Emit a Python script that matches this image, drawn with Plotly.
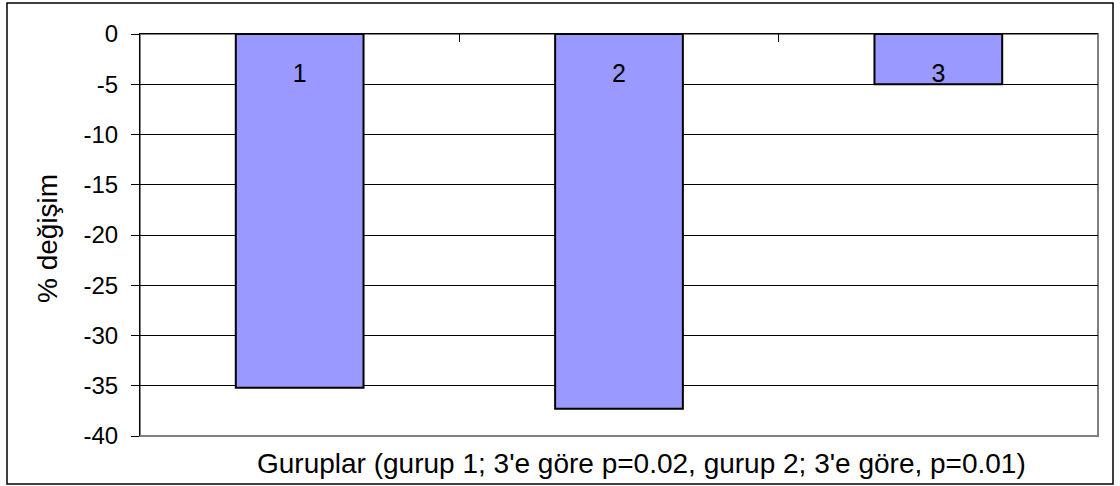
import plotly.graph_objects as go

categories = ["1", "2", "3"]
values = [-35.2, -37.3, -5.0]
label_y = [-4.15, -4.15, -4.15]
y_tick_vals = [0, -5, -10, -15, -20, -25, -30, -35, -40]
y_tick_text = ["0", "-5", "-10", "-15", "-20", "-25", "-30", "-35", "-40"]
y_title = "% değişim"
x_title = "Guruplar (gurup 1; 3'e göre p=0.02, gurup 2; 3'e göre, p=0.01)"

FONT = "Liberation Sans, Arial, sans-serif"
xs = list(range(len(categories)))

fig = go.Figure()
fig.add_trace(go.Bar(
    x=xs, y=values, width=0.4,
    marker=dict(color="#9999FF", line=dict(color="black", width=2)),
    hoverinfo="y",
))
fig.add_trace(go.Scatter(
    x=xs, y=label_y, mode="text", text=categories,
    textfont=dict(family=FONT, size=25, color="black"),
    hoverinfo="skip",
))

L, R, T, B = 140, 22, 34, 50
W, H = 1120, 486
pw = W - L - R
ph = H - T - B

fig.update_layout(
    width=W, height=H,
    margin=dict(l=L, r=R, t=T, b=B),
    paper_bgcolor="white", plot_bgcolor="white",
    showlegend=False,
    font=dict(family=FONT, size=24, color="black"),
    xaxis=dict(
        range=[-0.5, 2.5], side="top",
        tickvals=[0.5, 1.5], ticks="inside", ticklen=8, tickcolor="black", tickwidth=1,
        showticklabels=False, showgrid=False, zeroline=False,
        showline=True, linecolor="black", linewidth=1,
    ),
    yaxis=dict(
        range=[-40, 0], tickvals=y_tick_vals, ticktext=y_tick_text,
        ticks="outside", ticklen=8, tickcolor="black", tickwidth=1,
        ticklabelstandoff=8,
        tickfont=dict(family=FONT, size=24, color="black"),
        showgrid=True, gridcolor="black", gridwidth=1, zeroline=False,
        showline=True, linecolor="black", linewidth=1,
    ),
    shapes=[
        dict(type="rect", xref="paper", yref="paper", x0=0, x1=1, y0=0, y1=1,
             line=dict(color="#808080", width=2), layer="below"),
        dict(type="rect", xref="paper", yref="paper",
             x0=(7 - L) / pw, x1=(1113 - L) / pw,
             y0=(H - B - 484) / ph, y1=(H - B - 3) / ph,
             line=dict(color="black", width=1.5), layer="below"),
    ],
    annotations=[
        dict(text=x_title, xref="paper", yref="paper",
             x=(641 - L) / pw, y=(H - B - 463) / ph,
             xanchor="center", yanchor="middle", showarrow=False,
             font=dict(family=FONT, size=28, color="black")),
        dict(text=y_title, xref="paper", yref="paper", textangle=-90,
             x=(48 - L) / pw, y=(H - B - 239) / ph,
             xanchor="center", yanchor="middle", showarrow=False,
             font=dict(family=FONT, size=28, color="black")),
    ],
)

fig.write_html("out.html", config={"displayModeBar": False},
               post_script="document.body.style.margin='0';")
